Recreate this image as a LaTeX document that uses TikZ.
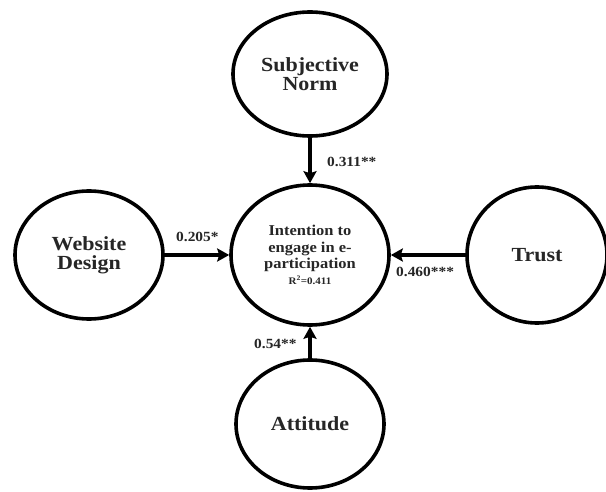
\documentclass[tikz,border=0pt]{standalone}
\usepackage{fontspec}
\setmainfont{Liberation Serif}[FakeStretch=1.1]
\usetikzlibrary{shapes.geometric,arrows.meta}
\begin{document}
\begin{tikzpicture}[x=1pt,y=-1pt,
  construct/.style={ellipse,draw=black,line width=3.6pt,inner sep=0pt,fill=white,
    text=black!85,align=center,font=\bfseries\fontsize{20}{19}\selectfont},
  path/.style={line width=3.8pt,-{Stealth[length=12pt,width=13pt,inset=2pt]}},
  coef/.style={text=black!85,font=\bfseries\fontsize{14}{16}\selectfont,inner sep=0pt}]
\useasboundingbox (0,0) rectangle (606,492);
\node[construct,minimum width=154pt,minimum height=124pt] (sn) at (310,74) {Subjective\\Norm};
\node[construct,minimum width=158pt,minimum height=140pt,font=\bfseries\fontsize{15}{16.5}\selectfont] (c) at (310,255)
  {Intention to\\engage in e-\\participation\\[-1pt]{\fontsize{10}{12}\selectfont R\textsuperscript{2}=0.411}};
\node[construct,minimum width=148pt,minimum height=128pt] (wd) at (89,255) {Website\\Design};
\node[construct,minimum width=140pt,minimum height=136pt] (tr) at (537,255) {Trust};
\node[construct,minimum width=148pt,minimum height=128pt] (at) at (310,424) {Attitude};
\draw[path] (sn.south) -- (c.north);
\draw[path] (wd.east) -- (c.west);
\draw[path] (tr.west) -- (c.east);
\draw[path] (at.north) -- (c.south);
\node[coef,anchor=west] (l1) at (327,162) {0.311**};
\node[coef,anchor=west] (l2) at (176,237) {0.205*};
\node[coef,anchor=west] (l3) at (396,272) {0.460***};
\node[coef,anchor=west] (l4) at (254,344) {0.54**};
\end{tikzpicture}
\end{document}
